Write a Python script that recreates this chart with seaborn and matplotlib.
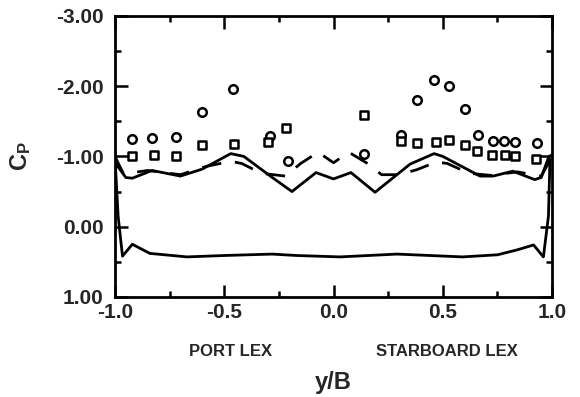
import numpy as np
import pandas as pd
import matplotlib
matplotlib.use("Agg")
import matplotlib.pyplot as plt
import seaborn as sns
from matplotlib.ticker import MultipleLocator

# Measured pressure coefficients across the LEX span
circle_y = [-0.92, -0.83, -0.72, -0.60, -0.46, -0.29, -0.21,
            0.14, 0.31, 0.38, 0.46, 0.53, 0.60, 0.66, 0.73, 0.78, 0.83, 0.93]
circle_cp = [-1.25, -1.26, -1.28, -1.63, -1.96, -1.29, -0.93,
             -1.04, -1.31, -1.81, -2.09, -2.00, -1.68, -1.30, -1.22, -1.22, -1.20, -1.19]

square_y = [-0.92, -0.82, -0.72, -0.60, -0.455, -0.30, -0.217,
            0.14, 0.307, 0.384, 0.468, 0.53, 0.60, 0.657, 0.727, 0.783, 0.828, 0.925]
square_cp = [-1.00, -1.02, -1.00, -1.16, -1.18, -1.20, -1.40,
             -1.59, -1.22, -1.19, -1.20, -1.23, -1.16, -1.08, -1.02, -1.02, -1.00, -0.97]

# Computed upper-surface distribution (solid)
upper_y = [-1.0, -0.985, -0.95, -0.92, -0.83, -0.70, -0.60, -0.47, -0.41, -0.28,
           -0.19, -0.08, 0.0, 0.08, 0.19, 0.35, 0.46, 0.50, 0.67, 0.73, 0.82,
           0.92, 0.95, 0.985, 1.0]
upper_cp = [-1.03, -0.85, -0.70, -0.69, -0.80, -0.72, -0.82, -1.04, -1.00, -0.70,
            -0.50, -0.77, -0.68, -0.77, -0.49, -0.89, -1.04, -1.00, -0.72, -0.72, -0.79,
            -0.67, -0.70, -1.00, -1.02]

# Computed lower-surface distribution (solid)
lower_y = [-1.0, -0.985, -0.965, -0.92, -0.84, -0.67, -0.50, -0.28, -0.17, 0.03,
           0.29, 0.59, 0.75, 0.84, 0.915, 0.96, 0.983, 0.99]
lower_cp = [-1.03, -0.15, 0.42, 0.25, 0.38, 0.43, 0.41, 0.39, 0.41, 0.43,
            0.39, 0.43, 0.40, 0.33, 0.26, 0.43, -0.15, -0.96]

# Alternate computed upper-surface distribution (dashed)
dash_y = [-1.0, -0.96, -0.85, -0.70, -0.58, -0.47, -0.42, -0.33, -0.22, -0.15,
          -0.07, 0.0, 0.07, 0.15, 0.22, 0.30, 0.38, 0.47, 0.52, 0.62, 0.72,
          0.84, 0.95, 1.0]
dash_cp = [-1.0, -0.75, -0.80, -0.74, -0.86, -0.93, -0.90, -0.76, -0.72, -0.90,
           -1.06, -0.91, -1.06, -0.91, -0.74, -0.74, -0.81, -0.92, -0.90, -0.76, -0.73,
           -0.78, -0.72, -1.0]

sns.set_style("ticks")
plt.rcParams["font.family"] = ["Liberation Sans", "DejaVu Sans"]
plt.rcParams["font.weight"] = "bold"
plt.rcParams["mathtext.fontset"] = "custom"
plt.rcParams["mathtext.rm"] = "Liberation Sans:bold"
plt.rcParams["mathtext.it"] = "Liberation Sans:bold"
plt.rcParams["mathtext.bf"] = "Liberation Sans:bold"

fig = plt.figure(figsize=(5.8, 3.97), dpi=100)
ax = fig.add_axes([0.198, 0.252, 0.754, 0.708])

lw = 2.0
sns.lineplot(data=pd.DataFrame({"y": upper_y, "cp": upper_cp}), x="y", y="cp",
             sort=False, estimator=None, color="black", lw=lw, ax=ax)
sns.lineplot(data=pd.DataFrame({"y": lower_y, "cp": lower_cp}), x="y", y="cp",
             sort=False, estimator=None, color="black", lw=lw, ax=ax)
sns.lineplot(data=pd.DataFrame({"y": dash_y, "cp": dash_cp}), x="y", y="cp",
             sort=False, estimator=None, color="black", lw=lw, ax=ax)
ax.lines[-1].set_linestyle((0, (7, 5)))

sns.scatterplot(data=pd.DataFrame({"y": circle_y, "cp": circle_cp}), x="y", y="cp",
                marker="o", s=38, facecolor="white", edgecolor="black",
                linewidth=1.8, ax=ax, zorder=3)
sns.scatterplot(data=pd.DataFrame({"y": square_y, "cp": square_cp}), x="y", y="cp",
                marker="s", s=36, facecolor="white", edgecolor="black",
                linewidth=1.8, ax=ax, zorder=3)

ax.set_xlim(-1.0, 1.0)
ax.set_ylim(1.0, -3.0)
ax.xaxis.set_major_locator(MultipleLocator(0.5))
ax.xaxis.set_minor_locator(MultipleLocator(0.25))
ax.yaxis.set_major_locator(MultipleLocator(1.0))
ax.yaxis.set_minor_locator(MultipleLocator(0.5))
ax.xaxis.set_major_formatter(plt.FuncFormatter(lambda v, p: f"{v:.1f}"))
ax.yaxis.set_major_formatter(plt.FuncFormatter(lambda v, p: f"{v:.2f}"))

ax.tick_params(which="both", direction="in", top=True, right=True, width=1.8,
               labelsize=15, color="black")
ax.tick_params(which="major", length=9)
ax.tick_params(which="minor", length=4.5)
ax.tick_params(axis="y", pad=8)
ax.tick_params(axis="x", pad=4)
for lab in ax.get_xticklabels() + ax.get_yticklabels():
    lab.set_fontweight("bold")
for sp in ax.spines.values():
    sp.set_linewidth(2.0)
    sp.set_color("black")

ax.set_xlabel("y/B", fontsize=17, fontweight="bold")
ax.set_ylabel(r"$\mathrm{C_P}$", fontsize=17)
ax.xaxis.set_label_coords(0.5, -0.306)
ax.xaxis.label.set_va("center")
ax.yaxis.set_label_coords(-0.215, 0.5)
ax.yaxis.label.set_va("center")

ax.text(-0.47, -0.168, "PORT LEX", transform=ax.get_xaxis_transform(),
        ha="center", va="top", fontsize=12, fontweight="bold")
ax.text(0.52, -0.168, "STARBOARD LEX", transform=ax.get_xaxis_transform(),
        ha="center", va="top", fontsize=12, fontweight="bold")

fig.savefig("out.png", dpi=100)
